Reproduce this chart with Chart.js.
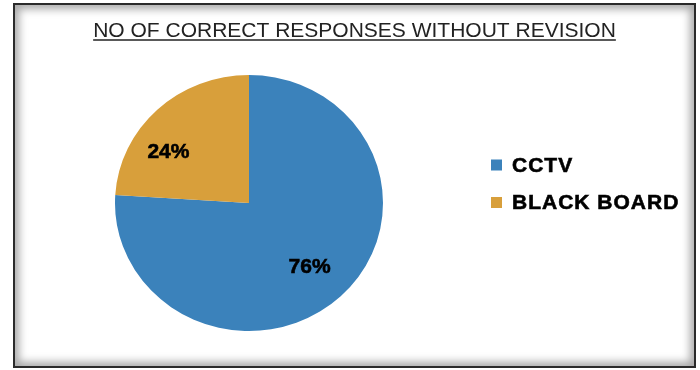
<!DOCTYPE html>
<html>
<head>
<meta charset="utf-8">
<script src="https://cdn.jsdelivr.net/npm/chart.js@4"></script>
<style>
  body { margin: 0; background: #fff; }
  #frame {
    position: absolute; left: 13px; top: 3px; width: 679px; height: 361px;
    border: 2px solid #2a2a2a;
    box-shadow: inset 0 0 8px 4px rgba(0,0,0,0.35);
  }
  #wrap { position: absolute; left: 0; top: 0; width: 700px; height: 370px; }
</style>
</head>
<body>
<div id="frame"></div>
<div id="wrap"><canvas id="responseChart" width="700" height="370"></canvas></div>
<script>
const categories = ['CCTV', 'BLACK BOARD'];
const percentValues = [76, 24];
const sliceColors = ['#3b82bb', '#d89f3b'];
const chartTitle = 'NO OF CORRECT RESPONSES WITHOUT REVISION';

// the original pie is a bit flattened vertically
const squashY = 128 / 134;

const squash = {
    id: 'squash',
    beforeDatasetsDraw(chart) {
        const cy = (chart.chartArea.top + chart.chartArea.bottom) / 2;
        chart.ctx.save();
        chart.ctx.translate(0, cy);
        chart.ctx.scale(1, squashY);
        chart.ctx.translate(0, -cy);
    },
    afterDatasetsDraw(chart) {
        chart.ctx.restore();
    }
};

// percentage labels drawn on the slices
const sliceLabels = {
    id: 'sliceLabels',
    afterDatasetsDraw(chart) {
        const ctx = chart.ctx;
        const arcs = chart.getDatasetMeta(0).data;
        const nudge = [[0, 3], [-20, 11]];
        ctx.save();
        ctx.font = 'bold 21px "Liberation Sans", Arial, sans-serif';
        ctx.fillStyle = '#000';
        ctx.strokeStyle = '#000';
        ctx.lineWidth = 0.6;
        ctx.textAlign = 'center';
        ctx.textBaseline = 'middle';
        arcs.forEach((arc, i) => {
            const p = arc.getProps(['x', 'y', 'startAngle', 'endAngle', 'outerRadius']);
            const mid = (p.startAngle + p.endAngle) / 2;
            const r = p.outerRadius * 0.66;
            const lx = p.x + Math.cos(mid) * r + nudge[i][0];
            const ly = p.y + Math.sin(mid) * r * squashY + nudge[i][1];
            ctx.fillText(percentValues[i] + '%', lx, ly);
            ctx.strokeText(percentValues[i] + '%', lx, ly);
        });
        ctx.restore();
    }
};

// underlined title
const titleBlock = {
    id: 'titleBlock',
    afterDraw(chart) {
        const ctx = chart.ctx;
        const cx = 354.5, base = 37;
        ctx.save();
        ctx.font = '21px "Liberation Sans", Arial, sans-serif';
        ctx.fillStyle = '#222';
        ctx.textAlign = 'center';
        ctx.textBaseline = 'alphabetic';
        ctx.fillText(chartTitle, cx, base);
        const w = ctx.measureText(chartTitle).width;
        ctx.strokeStyle = '#222';
        ctx.lineWidth = 1.4;
        ctx.beginPath();
        ctx.moveTo(cx - w / 2, base + 3);
        ctx.lineTo(cx + w / 2, base + 3);
        ctx.stroke();
        ctx.restore();
    }
};

// legend to the right of the pie
const sideLegend = {
    id: 'sideLegend',
    afterDraw(chart) {
        const ctx = chart.ctx;
        const x = 491, y0 = 165, gap = 37.5;
        ctx.save();
        ctx.font = 'bold 21px "Liberation Sans", Arial, sans-serif';
        ctx.letterSpacing = '1px';
        ctx.textBaseline = 'middle';
        ctx.strokeStyle = '#000';
        ctx.lineWidth = 0.6;
        categories.forEach((name, i) => {
            const y = y0 + i * gap;
            ctx.fillStyle = sliceColors[i];
            ctx.fillRect(x, y - 5.5, 11, 11);
            ctx.fillStyle = '#000';
            ctx.fillText(name, x + 21, y + 1);
            ctx.strokeText(name, x + 21, y + 1);
        });
        ctx.restore();
    }
};

const ctxResp = document.getElementById('responseChart').getContext('2d');
const myRespChart = new Chart(ctxResp, {
    type: 'pie',
    data: {
        labels: categories,
        datasets: [{
            data: percentValues,
            backgroundColor: sliceColors,
            borderWidth: 0
        }]
    },
    options: {
        responsive: false,
        animation: false,
        layout: {
            padding: { left: 115, right: 317, top: 69, bottom: 33 }
        },
        plugins: {
            legend: { display: false },
            tooltip: { enabled: false },
            title: { display: false }
        }
    },
    plugins: [squash, sliceLabels, titleBlock, sideLegend]
});
</script>
</body>
</html>
